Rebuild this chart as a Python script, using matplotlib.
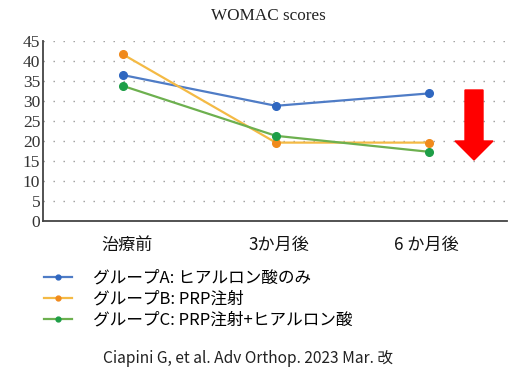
import matplotlib.pyplot as plt
from matplotlib.lines import Line2D
from matplotlib.patches import FancyArrow

# Data
periods = ['治療前', '3か月後', '6 か月後']
group_a = [36.5, 28.8, 31.9]
group_b = [41.7, 19.6, 19.6]
group_c = [33.8, 21.3, 17.3]
labels = ['グループA: ヒアルロン酸のみ', 'グループB: PRP注射', 'グループC: PRP注射+ヒアルロン酸']
line_colors = ['#4F7CC6', '#F4BA45', '#6DB04F']
marker_colors = ['#2F67C0', '#F08A1C', '#1E9E47']
yticks = list(range(0, 46, 5))

jp = ['Noto Sans CJK JP', 'DejaVu Sans']
serif = ['Liberation Serif', 'DejaVu Serif']

fig = plt.figure(figsize=(5.18, 3.88), dpi=100)
ax = fig.add_axes([0.083, 0.4304, 0.896, 0.4639])

x = range(len(periods))
for vals, lc, mc in zip([group_a, group_b, group_c], line_colors, marker_colors):
    ax.plot(x, vals, color=lc, lw=1.6, marker='o', markersize=5.5,
            markerfacecolor=mc, markeredgecolor=mc, zorder=3)

ax.set_xlim(-0.52, 2.51)
ax.set_ylim(0, 45)
ax.set_yticks(yticks)
ax.set_yticklabels([str(t) for t in yticks], family=serif, fontsize=12.5, color='#333333')
ax.set_xticks([])
for v in yticks[1:]:
    ax.axhline(v, color='#999999', lw=1.0, ls=(0, (1, 6.2)), zorder=1)
ax.tick_params(axis='y', length=0, pad=2)
for s in ['top', 'right']:
    ax.spines[s].set_visible(False)
ax.spines['left'].set_color('#444444')
ax.spines['bottom'].set_color('#444444')
ax.spines['left'].set_linewidth(1.3)
ax.spines['bottom'].set_linewidth(1.3)

fig.text(0.519, 0.958, 'WOMAC scores', family=serif, fontsize=12.3, ha='center', va='center', color='#222222')

# category labels under the axis (centres)
label_x = [127, 279, 426]
for p, lx in zip(periods, label_x):
    fig.text(lx / 518, 1 - 245 / 388, p, family=jp, fontsize=12.3, ha='center', va='center', color='#111111')

# legend
handles = [Line2D([], [], color=lc, lw=1.6, marker='o', markersize=3.5,
                  markerfacecolor=mc, markeredgecolor=mc)
           for lc, mc in zip(line_colors, marker_colors)]
leg = fig.legend(handles, labels, loc='upper left', bbox_to_anchor=(0.072, 0.322),
                 frameon=False, prop={'family': jp, 'size': 12}, handlelength=1.7,
                 handletextpad=1.25, labelspacing=0.24, borderaxespad=0)

fig.text(0.479, 0.077, 'Ciapini G, et al. Adv Orthop. 2023 Mar. 改', family=jp,
         fontsize=11.2, ha='center', va='center', color='#222222')

# red arrow
arrow = FancyArrow(474 / 518, 1 - 90 / 388, 0, -70 / 388, width=18 / 518,
                   head_width=38 / 518, head_length=19 / 388,
                   length_includes_head=True, color='#FF0000', transform=fig.transFigure)
fig.patches.append(arrow)

fig.savefig('out.png', dpi=100)
